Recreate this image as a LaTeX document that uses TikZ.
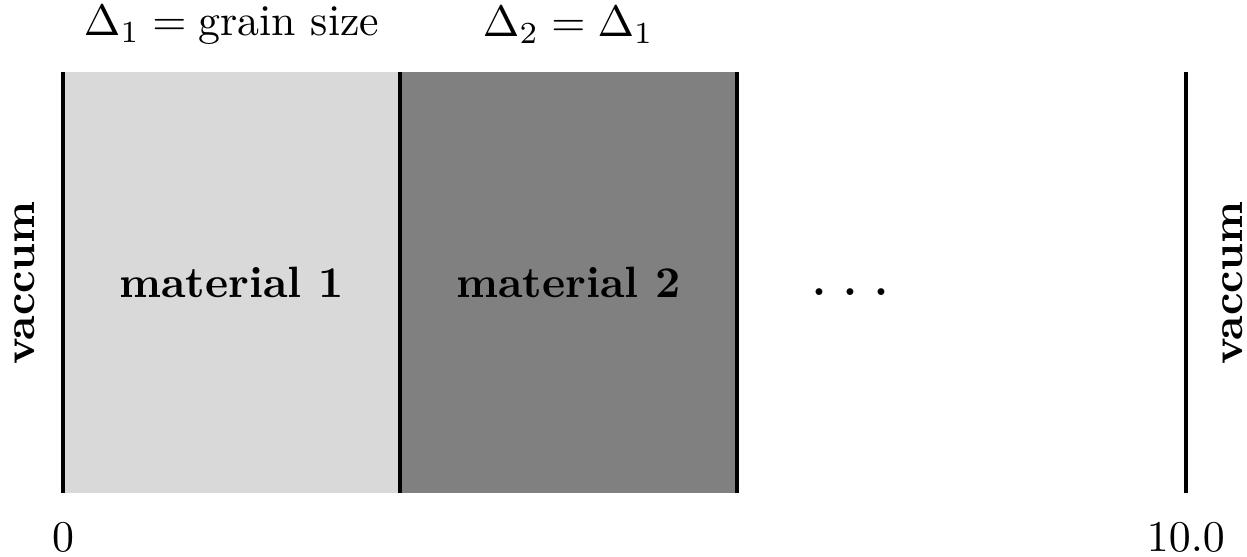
\documentclass[tikz,border=0pt]{standalone}
\begin{document}
\begin{tikzpicture}[x=0.9cm,y=0.9cm]
\useasboundingbox (-0.563,-0.563) rectangle (10.544,4.393);
\fill[gray!30] (0,0) rectangle (3,3.75);
\fill[gray] (3,0) rectangle (6,3.75);
\foreach \x in {0,3,6,10}
\draw[line width=1pt] (\x,0)--(\x,3.75);
\node[rotate=90] (vacl) at (-0.34,1.875) {\textbf{vaccum}};
\node[rotate=90] (vacr) at (10.42,1.875) {\textbf{vaccum}};
\node (mat1) at (1.5,1.875) {\textbf{material 1}};
\node (mat2) at (4.5,1.875) {\textbf{material 2}};
\node (dots) at (7.01,1.79) {\textbf{.~.~.}};
\node (del1) at (1.5,4.17) {$\Delta_1 = \textrm{grain size}$};
\node (del2) at (4.5,4.17) {$\Delta_2 = \Delta_1$};
\node (x0) at (0,-0.39) {$0$};
\node (x10) at (10,-0.39) {$10.0$};
\end{tikzpicture}
\end{document}
